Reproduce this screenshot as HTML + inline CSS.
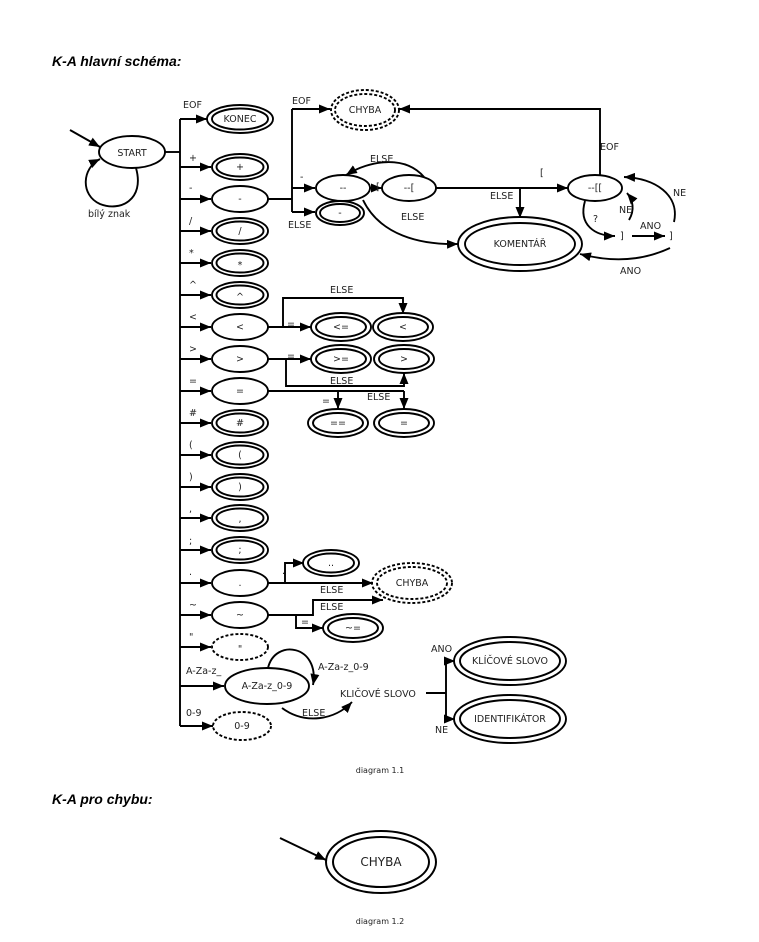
<!DOCTYPE html>
<html><head><meta charset="utf-8"><style>
html,body{margin:0;padding:0;background:#fff;width:759px;height:942px;overflow:hidden}
svg{display:block}
text{font-family:"DejaVu Sans","Liberation Sans",sans-serif;font-size:9.5px;fill:#222}
.t{font-family:"Liberation Sans",sans-serif;font-size:14px;font-weight:bold;font-style:italic;fill:#000}
.c{font-size:8px}
</style></head><body>
<svg width="759" height="942" viewBox="0 0 759 942" xmlns="http://www.w3.org/2000/svg">
<defs><marker id="a" markerWidth="11" markerHeight="9" refX="11" refY="4.5" orient="auto" markerUnits="userSpaceOnUse"><path d="M0,0 L11,4.5 L0,9 Z" fill="#000"/></marker></defs>
<g fill="none" stroke="#000" stroke-width="1.9">
<!-- start -->
<line x1="70" y1="130" x2="100" y2="147" marker-end="url(#a)"/>
<ellipse cx="132" cy="152" rx="33" ry="16"/>
<path d="M136,168 C145,200 120,212 100,204 C80,195 82,168 100,159" marker-end="url(#a)"/>
<line x1="165" y1="152" x2="180" y2="152"/>
<line x1="180" y1="119" x2="180" y2="726"/>
<!-- branches -->
<line x1="180" y1="119" x2="207" y2="119" marker-end="url(#a)"/>
<line x1="180" y1="167" x2="211" y2="167" marker-end="url(#a)"/>
<line x1="180" y1="199" x2="211" y2="199" marker-end="url(#a)"/>
<line x1="180" y1="231" x2="211" y2="231" marker-end="url(#a)"/>
<line x1="180" y1="263" x2="211" y2="263" marker-end="url(#a)"/>
<line x1="180" y1="295" x2="211" y2="295" marker-end="url(#a)"/>
<line x1="180" y1="327" x2="211" y2="327" marker-end="url(#a)"/>
<line x1="180" y1="359" x2="211" y2="359" marker-end="url(#a)"/>
<line x1="180" y1="391" x2="211" y2="391" marker-end="url(#a)"/>
<line x1="180" y1="423" x2="211" y2="423" marker-end="url(#a)"/>
<line x1="180" y1="455" x2="211" y2="455" marker-end="url(#a)"/>
<line x1="180" y1="487" x2="211" y2="487" marker-end="url(#a)"/>
<line x1="180" y1="518" x2="211" y2="518" marker-end="url(#a)"/>
<line x1="180" y1="550" x2="211" y2="550" marker-end="url(#a)"/>
<line x1="180" y1="583" x2="211" y2="583" marker-end="url(#a)"/>
<line x1="180" y1="615" x2="211" y2="615" marker-end="url(#a)"/>
<line x1="180" y1="647" x2="211" y2="647" marker-end="url(#a)"/>
<line x1="180" y1="686" x2="224" y2="686" marker-end="url(#a)"/>
<line x1="180" y1="726" x2="213" y2="726" marker-end="url(#a)"/>
<!-- states -->
<ellipse cx="240" cy="119" rx="33" ry="14"/><ellipse cx="240" cy="119" rx="28" ry="10.5"/>
<ellipse cx="240" cy="167" rx="28" ry="13"/><ellipse cx="240" cy="167" rx="23.5" ry="9.5"/>
<ellipse cx="240" cy="199" rx="28" ry="13"/>
<ellipse cx="240" cy="231" rx="28" ry="13"/><ellipse cx="240" cy="231" rx="23.5" ry="9.5"/>
<ellipse cx="240" cy="263" rx="28" ry="13"/><ellipse cx="240" cy="263" rx="23.5" ry="9.5"/>
<ellipse cx="240" cy="295" rx="28" ry="13"/><ellipse cx="240" cy="295" rx="23.5" ry="9.5"/>
<ellipse cx="240" cy="327" rx="28" ry="13"/>
<ellipse cx="240" cy="359" rx="28" ry="13"/>
<ellipse cx="240" cy="391" rx="28" ry="13"/>
<ellipse cx="240" cy="423" rx="28" ry="13"/><ellipse cx="240" cy="423" rx="23.5" ry="9.5"/>
<ellipse cx="240" cy="455" rx="28" ry="13"/><ellipse cx="240" cy="455" rx="23.5" ry="9.5"/>
<ellipse cx="240" cy="487" rx="28" ry="13"/><ellipse cx="240" cy="487" rx="23.5" ry="9.5"/>
<ellipse cx="240" cy="518" rx="28" ry="13"/><ellipse cx="240" cy="518" rx="23.5" ry="9.5"/>
<ellipse cx="240" cy="550" rx="28" ry="13"/><ellipse cx="240" cy="550" rx="23.5" ry="9.5"/>
<ellipse cx="240" cy="583" rx="28" ry="13"/>
<ellipse cx="240" cy="615" rx="28" ry="13"/>
<ellipse cx="240" cy="647" rx="28" ry="13" stroke-dasharray="3,2"/>
<ellipse cx="267" cy="686" rx="42" ry="18"/>
<ellipse cx="242" cy="726" rx="29" ry="14" stroke-dasharray="3,2"/>
<!-- minus branch -->
<line x1="268" y1="199" x2="292" y2="199"/>
<line x1="292" y1="109" x2="292" y2="212"/>
<line x1="292" y1="109" x2="330" y2="109" marker-end="url(#a)"/>
<line x1="292" y1="188" x2="315" y2="188" marker-end="url(#a)"/>
<line x1="292" y1="212" x2="315" y2="212" marker-end="url(#a)"/>
<ellipse cx="365" cy="110" rx="34" ry="20" stroke-dasharray="3,2"/><ellipse cx="365" cy="110" rx="30" ry="16" stroke-dasharray="3,2"/>
<ellipse cx="343" cy="188" rx="27" ry="13"/>
<ellipse cx="340" cy="213" rx="24" ry="12"/><ellipse cx="340" cy="213" rx="20" ry="9"/>
<ellipse cx="409" cy="188" rx="27" ry="13"/>
<line x1="370" y1="188" x2="382" y2="188" marker-end="url(#a)"/>
<path d="M424,177 C405,155 370,160 346,175" marker-end="url(#a)"/>
<line x1="436" y1="188" x2="568" y2="188" marker-end="url(#a)"/>
<line x1="520" y1="188" x2="520" y2="218" marker-end="url(#a)"/>
<ellipse cx="520" cy="244" rx="62" ry="27"/><ellipse cx="520" cy="244" rx="55" ry="21"/>
<path d="M363,200 C380,235 420,245 458,244" marker-end="url(#a)"/>
<ellipse cx="595" cy="188" rx="27" ry="13"/>
<path d="M600,175 L600,109 L399,109" marker-end="url(#a)"/>
<path d="M585,201 C578,225 595,236 615,236" marker-end="url(#a)"/>
<line x1="632" y1="236" x2="665" y2="236" marker-end="url(#a)"/>
<path d="M629,220 C635,210 633,200 627,193" marker-end="url(#a)"/>
<path d="M674,222 C680,195 655,178 624,177" marker-end="url(#a)"/>
<path d="M670,248 C640,262 610,262 580,254" marker-end="url(#a)"/>
<!-- comparisons -->
<line x1="268" y1="327" x2="311" y2="327" marker-end="url(#a)"/>
<path d="M283,327 L283,298 L403,298 L403,314" marker-end="url(#a)"/>
<ellipse cx="341" cy="327" rx="30" ry="14"/><ellipse cx="341" cy="327" rx="25" ry="10"/>
<ellipse cx="403" cy="327" rx="30" ry="14"/><ellipse cx="403" cy="327" rx="25" ry="10"/>
<line x1="268" y1="359" x2="311" y2="359" marker-end="url(#a)"/>
<path d="M286,359 L286,386 L404,386 L404,373" marker-end="url(#a)"/>
<ellipse cx="341" cy="359" rx="30" ry="14"/><ellipse cx="341" cy="359" rx="25" ry="10"/>
<ellipse cx="404" cy="359" rx="30" ry="14"/><ellipse cx="404" cy="359" rx="25" ry="10"/>
<line x1="268" y1="391" x2="404" y2="391"/>
<line x1="404" y1="391" x2="404" y2="409" marker-end="url(#a)"/>
<line x1="338" y1="391" x2="338" y2="409" marker-end="url(#a)"/>
<ellipse cx="338" cy="423" rx="30" ry="14"/><ellipse cx="338" cy="423" rx="25" ry="10"/>
<ellipse cx="404" cy="423" rx="30" ry="14"/><ellipse cx="404" cy="423" rx="25" ry="10"/>
<!-- dot / tilde -->
<line x1="268" y1="583" x2="373" y2="583" marker-end="url(#a)"/>
<path d="M285,583 L285,563 L304,563" marker-end="url(#a)"/>
<ellipse cx="331" cy="563" rx="28" ry="13"/><ellipse cx="331" cy="563" rx="23" ry="9.5"/>
<ellipse cx="412" cy="583" rx="40" ry="20" stroke-dasharray="3,2"/><ellipse cx="412" cy="583" rx="35" ry="16" stroke-dasharray="3,2"/>
<path d="M268,615 L313,615 L313,600 L383,600" marker-end="url(#a)"/>
<path d="M296,615 L296,628 L323,628" marker-end="url(#a)"/>
<ellipse cx="353" cy="628" rx="30" ry="14"/><ellipse cx="353" cy="628" rx="25" ry="10"/>
<!-- identifier -->
<path d="M268,668 C275,638 320,645 313,685" marker-end="url(#a)"/>
<path d="M282,708 C305,725 335,720 352,702" marker-end="url(#a)"/>
<path d="M426,693 L446,693 M446,661 L446,719"/>
<line x1="446" y1="661" x2="455" y2="661" marker-end="url(#a)"/>
<line x1="446" y1="719" x2="455" y2="719" marker-end="url(#a)"/>
<ellipse cx="510" cy="661" rx="56" ry="24"/><ellipse cx="510" cy="661" rx="50" ry="19"/>
<ellipse cx="510" cy="719" rx="56" ry="24"/><ellipse cx="510" cy="719" rx="50" ry="19"/>
<!-- diagram 2 -->
<line x1="280" y1="838" x2="326" y2="860" marker-end="url(#a)" stroke-width="2"/>
<ellipse cx="381" cy="862" rx="55" ry="31" stroke-width="2"/><ellipse cx="381" cy="862" rx="48" ry="25" stroke-width="2"/>
</g>
<text class="t" x="52" y="66">K-A hlavní schéma:</text>
<text x="132" y="156" text-anchor="middle">START</text>
<text x="88" y="217">bílý znak</text>
<text x="183" y="108">EOF</text>
<text x="189" y="161">+</text><text x="189" y="191">-</text><text x="189" y="224">/</text><text x="189" y="256">*</text><text x="189" y="288">^</text><text x="189" y="320">&lt;</text><text x="189" y="352">&gt;</text><text x="189" y="384">=</text><text x="189" y="416">#</text><text x="189" y="448">(</text><text x="189" y="480">)</text><text x="189" y="512">,</text><text x="189" y="544">;</text><text x="189" y="575">.</text><text x="189" y="608">~</text><text x="189" y="640">"</text>
<text x="186" y="674">A-Za-z_</text><text x="186" y="716">0-9</text>
<text x="240" y="122" text-anchor="middle">KONEC</text>
<text x="240" y="170" text-anchor="middle">+</text><text x="240" y="202" text-anchor="middle">-</text><text x="240" y="234" text-anchor="middle">/</text><text x="240" y="268" text-anchor="middle">*</text><text x="240" y="300" text-anchor="middle">^</text><text x="240" y="330" text-anchor="middle">&lt;</text><text x="240" y="362" text-anchor="middle">&gt;</text><text x="240" y="394" text-anchor="middle">=</text><text x="240" y="426" text-anchor="middle">#</text><text x="240" y="458" text-anchor="middle">(</text><text x="240" y="490" text-anchor="middle">)</text><text x="240" y="522" text-anchor="middle">,</text><text x="240" y="553" text-anchor="middle">;</text><text x="240" y="586" text-anchor="middle">.</text><text x="240" y="618" text-anchor="middle">~</text><text x="240" y="652" text-anchor="middle">"</text>
<text x="267" y="689" text-anchor="middle">A-Za-z_0-9</text><text x="242" y="729" text-anchor="middle">0-9</text>
<text x="365" y="113" text-anchor="middle">CHYBA</text>
<text x="343" y="191" text-anchor="middle">--</text><text x="340" y="216" text-anchor="middle">-</text>
<text x="409" y="191" text-anchor="middle">--[</text><text x="595" y="191" text-anchor="middle">--[[</text>
<text x="520" y="247" text-anchor="middle">KOMENTÁŘ</text>
<text x="341" y="330" text-anchor="middle">&lt;=</text><text x="403" y="330" text-anchor="middle">&lt;</text>
<text x="341" y="362" text-anchor="middle">&gt;=</text><text x="404" y="362" text-anchor="middle">&gt;</text>
<text x="338" y="426" text-anchor="middle">==</text><text x="404" y="426" text-anchor="middle">=</text>
<text x="331" y="566" text-anchor="middle">..</text><text x="412" y="586" text-anchor="middle">CHYBA</text>
<text x="353" y="631" text-anchor="middle">~=</text>
<text x="510" y="664" text-anchor="middle">KLÍČOVÉ SLOVO</text><text x="510" y="722" text-anchor="middle">IDENTIFIKÁTOR</text>
<text x="292" y="104">EOF</text><text x="300" y="180">-</text><text x="288" y="228">ELSE</text>
<text x="370" y="162">ELSE</text><text x="376" y="190">[</text><text x="401" y="220">ELSE</text>
<text x="490" y="199">ELSE</text><text x="540" y="176">[</text><text x="600" y="150">EOF</text>
<text x="593" y="222">?</text><text x="620" y="239">]</text><text x="669" y="239">]</text>
<text x="640" y="229">ANO</text><text x="619" y="213">NE</text><text x="673" y="196">NE</text><text x="620" y="274">ANO</text>
<text x="330" y="293">ELSE</text><text x="287" y="327">=</text><text x="287" y="359">=</text>
<text x="330" y="384">ELSE</text><text x="367" y="400">ELSE</text><text x="322" y="404">=</text>
<text x="282" y="574">.</text><text x="320" y="593">ELSE</text><text x="320" y="610">ELSE</text><text x="301" y="625">=</text>
<text x="318" y="670">A-Za-z_0-9</text><text x="302" y="716">ELSE</text>
<text x="340" y="697">KLIČOVÉ SLOVO</text>
<text x="431" y="652">ANO</text><text x="435" y="733">NE</text>
<text class="c" x="380" y="773" text-anchor="middle">diagram 1.1</text>
<text class="t" x="52" y="804">K-A pro chybu:</text>
<text x="381" y="866" text-anchor="middle" style="font-size:12px">CHYBA</text>
<text class="c" x="380" y="924" text-anchor="middle">diagram 1.2</text>
</svg>
</body></html>
